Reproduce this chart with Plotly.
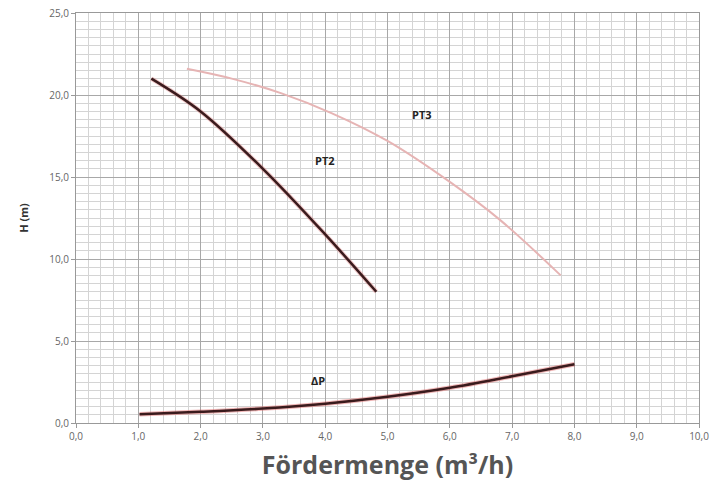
import plotly.graph_objects as go

# Data
pt2_x = [1.21, 2.0, 3.0, 4.0, 4.82]
pt2_y = [21.0, 19.0, 15.5, 11.5, 8.0]

pt3_x = [1.78, 2.5, 3.3, 4.1, 5.0, 6.0, 6.8, 7.78]
pt3_y = [21.6, 21.0, 20.1, 18.9, 17.2, 14.7, 12.4, 9.0]

dp_x = [1.02, 2.0, 3.0, 4.0, 5.0, 6.0, 7.0, 8.0]
dp_y = [0.53, 0.68, 0.88, 1.18, 1.6, 2.15, 2.85, 3.58]

x_ticks = [0, 1, 2, 3, 4, 5, 6, 7, 8, 9, 10]
x_ticklabels = ["0,0", "1,0", "2,0", "3,0", "4,0", "5,0", "6,0", "7,0", "8,0", "9,0", "10,0"]
y_ticks = [0, 5, 10, 15, 20, 25]
y_ticklabels = ["0,0", "5,0", "10,0", "15,0", "20,0", "25,0"]

labels = [("PT2", 4.0, 16.0), ("PT3", 5.56, 18.8), ("ΔP", 3.89, 2.6)]

fig = go.Figure()

def curve(x, y, core, halo, w=2.5):
    if halo:
        fig.add_trace(go.Scatter(x=x, y=y, mode="lines", line=dict(color=halo, width=w + 2, shape="spline"),
                                 hoverinfo="skip", showlegend=False))
    fig.add_trace(go.Scatter(x=x, y=y, mode="lines", line=dict(color=core, width=w, shape="spline"),
                             showlegend=False))

curve(pt2_x, pt2_y, "#3a1b1d", "rgba(220,120,120,0.4)")
curve(pt3_x, pt3_y, "#e6b4b4", None, w=2)
curve(dp_x, dp_y, "#3a1b1d", "rgba(220,90,90,0.45)")

for t, x, y in labels:
    fig.add_annotation(x=x, y=y, text="<b>%s</b>" % t, showarrow=False,
                       font=dict(family="Open Sans, DejaVu Sans", size=11, color="#222"))

fig.update_xaxes(
    range=[0, 10], tickvals=x_ticks, ticktext=x_ticklabels, automargin=False,
    showgrid=True, gridcolor="#a8a8a8", gridwidth=1,
    minor=dict(dtick=0.2, showgrid=True, gridcolor="#d4d4d4", gridwidth=1),
    showline=True, linecolor="#999", mirror=True, zeroline=False,
    ticks="outside", ticklen=4, tickcolor="#999",
    tickfont=dict(family="Open Sans, DejaVu Sans", size=10, color="#666"),
    title=dict(text="<b>Fördermenge (m³/h)</b>", standoff=14,
               font=dict(family="Open Sans, Lato", size=25, color="#555")),
)
fig.update_yaxes(
    range=[0, 25], tickvals=y_ticks, ticktext=y_ticklabels, automargin=False,
    showgrid=True, gridcolor="#a8a8a8", gridwidth=1,
    minor=dict(dtick=0.5, showgrid=True, gridcolor="#d4d4d4", gridwidth=1),
    showline=True, linecolor="#999", mirror=True, zeroline=False,
    ticks="outside", ticklen=4, tickcolor="#999",
    tickfont=dict(family="Open Sans, DejaVu Sans", size=10, color="#666"),
    title=dict(text="<b>H (m)</b>", standoff=18,
               font=dict(family="Open Sans, DejaVu Sans", size=11, color="#333")),
)

fig.update_layout(
    width=712, height=490,
    margin=dict(l=76, r=13, t=13, b=67),
    plot_bgcolor="white", paper_bgcolor="white",
    showlegend=False,
)

fig.write_html("out.html", config={"displayModeBar": False},
               post_script="document.body.style.margin='0';document.body.style.overflow='hidden';")
